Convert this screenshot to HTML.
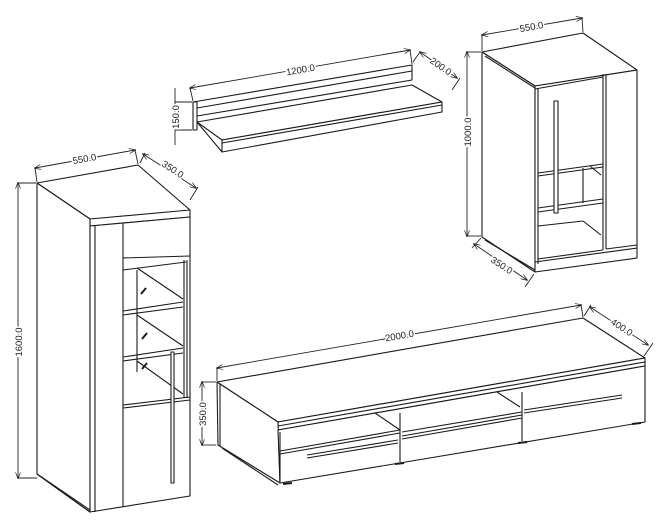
<!DOCTYPE html>
<html><head><meta charset="utf-8"><style>
html,body{margin:0;padding:0;background:#fff;}
svg{display:block}
text{font-family:"Liberation Sans",sans-serif;font-size:9.5px;fill:#222}
</style></head><body>
<svg width="663" height="527" viewBox="0 0 663 527" xmlns="http://www.w3.org/2000/svg">
<defs><marker id="a" markerWidth="8" markerHeight="6" refX="7" refY="3" orient="auto-start-reverse"><path d="M0,0 L8,3 L0,6" fill="none" stroke="#222" stroke-width="0.8"/></marker></defs>
<g fill="none" stroke="#1a1a1a" stroke-width="1.1" stroke-linejoin="round">
<!-- Tall cabinet -->
<polygon points="37,183 138,165 190,210 90,219" fill="#fff"/>
<polyline points="90,219 90,226 190,217 190,210"/>
<polygon points="37,183 90,219 90,512 37,474" fill="#fff"/>
<polygon points="90,226 190,217 190,496 90,512" fill="#fff"/>
<line x1="95" y1="226" x2="95" y2="512"/>
<line x1="123" y1="223" x2="123" y2="507"/>
<line x1="123" y1="258" x2="190" y2="256"/>
<line x1="123" y1="270" x2="186" y2="262"/>
<line x1="137" y1="270" x2="137" y2="372"/>
<line x1="137" y1="268" x2="183" y2="299"/>
<line x1="123" y1="311" x2="183" y2="302"/>
<line x1="123" y1="315" x2="183" y2="307"/>
<line x1="137" y1="315" x2="183" y2="346"/>
<line x1="123" y1="357" x2="183" y2="348"/>
<line x1="123" y1="361" x2="183" y2="353"/>
<line x1="137" y1="361" x2="183" y2="394"/>
<line x1="184" y1="260" x2="184" y2="398"/>
<line x1="187" y1="260" x2="187" y2="398"/>
<line x1="123" y1="405" x2="190" y2="397"/>
<line x1="123" y1="408" x2="190" y2="400"/>
<rect x="171" y="352" width="3" height="131" fill="#fff"/>
<line x1="37" y1="474" x2="90" y2="512"/><line x1="40" y1="476" x2="90" y2="510"/>
<g stroke-width="2"><line x1="141" y1="294" x2="146" y2="288"/><line x1="142" y1="339" x2="147" y2="333"/><line x1="142" y1="369" x2="147" y2="363"/>
<line x1="565" y1="188" x2="570" y2="183"/><line x1="565" y1="237" x2="570" y2="232"/></g>
<!-- Shelf -->
<polygon points="193,102 412,65 412,80 197,116" fill="#fff"/>
<line x1="197" y1="108" x2="412" y2="71"/>
<polygon points="193,102 197,102 197,130 193,130" fill="#fff"/>
<polygon points="197,122 412,85 442,102 222,140" fill="#fff"/>
<polygon points="222,140 442,102 442,112 222,152" fill="#fff"/>
<line x1="222" y1="143" x2="442" y2="105"/>
<line x1="197" y1="122" x2="222" y2="152"/>
<!-- Right cabinet -->
<polygon points="482,52 583,33 637,70 535,86" fill="#fff"/>
<polygon points="482,52 535,86 535,272 482,237" fill="#fff"/>
<line x1="485" y1="56" x2="535" y2="88"/><line x1="485" y1="240" x2="535" y2="270"/>
<polygon points="535,86 637,70 637,258 535,272" fill="#fff"/>
<line x1="535" y1="89" x2="603" y2="77"/>
<line x1="538" y1="89" x2="538" y2="264"/>
<line x1="603" y1="74" x2="603" y2="250"/><line x1="606" y1="74" x2="606" y2="249"/>
<line x1="538" y1="173" x2="603" y2="164"/>
<line x1="538" y1="176" x2="603" y2="167"/>
<line x1="583" y1="168" x2="583" y2="203"/>
<line x1="590" y1="166" x2="601" y2="175"/>
<line x1="538" y1="208" x2="603" y2="199"/><line x1="538" y1="212" x2="603" y2="203"/>
<line x1="583" y1="221" x2="601" y2="235"/>
<line x1="538" y1="226" x2="583" y2="221"/>
<line x1="538" y1="259" x2="603" y2="250"/><line x1="606" y1="249" x2="637" y2="245"/>
<line x1="535" y1="262" x2="637" y2="248"/>
<rect x="554" y="101" width="4" height="112" fill="#fff"/>
<!-- TV stand -->
<polygon points="217,382 583,318 645,358 278,422" fill="#fff"/>
<polygon points="278,422 645,358 645,366 278,430" fill="#fff"/>
<line x1="278" y1="426" x2="645" y2="362"/>
<polygon points="217,382 278,422 280,483 218,445" fill="#fff"/>
<line x1="220" y1="384" x2="220" y2="446"/><line x1="222" y1="448" x2="278" y2="485"/>
<polygon points="278,430 645,366 645,422 280,483" fill="#fff"/>
<line x1="280" y1="432" x2="280" y2="483"/>
<line x1="280" y1="451" x2="400" y2="430"/>
<line x1="280" y1="454" x2="400" y2="433"/>
<line x1="400" y1="413" x2="400" y2="462"/>
<line x1="522" y1="392" x2="522" y2="441"/>
<line x1="375" y1="413" x2="400" y2="430"/>
<line x1="497" y1="392" x2="520" y2="407"/>
<line x1="402" y1="432" x2="522" y2="412"/><line x1="402" y1="436" x2="522" y2="415"/><line x1="402" y1="439" x2="522" y2="418"/>
<line x1="524" y1="410" x2="622" y2="395"/>
<line x1="524" y1="413" x2="622" y2="398"/>
<line x1="307" y1="455" x2="398" y2="440"/><line x1="307" y1="458" x2="398" y2="443"/>
<g stroke-width="2"><line x1="283" y1="484" x2="292" y2="483"/><line x1="395" y1="464" x2="404" y2="463"/><line x1="518" y1="443" x2="527" y2="442"/><line x1="632" y1="424" x2="641" y2="423"/></g>
</g>
<!-- Dimensions -->
<g stroke="#222" stroke-width="0.9" fill="none">
<line x1="18" y1="183" x2="18" y2="478" marker-start="url(#a)" marker-end="url(#a)"/>
<line x1="18" y1="183" x2="36" y2="183"/><line x1="18" y1="478" x2="37" y2="478"/>
<line x1="35" y1="168" x2="135" y2="150" marker-start="url(#a)" marker-end="url(#a)"/>
<line x1="35" y1="168" x2="37" y2="182"/><line x1="135" y1="150" x2="138" y2="164"/>
<line x1="143" y1="154" x2="196" y2="188" marker-start="url(#a)" marker-end="url(#a)"/>
<line x1="140" y1="163" x2="145" y2="153"/><line x1="190" y1="200" x2="198" y2="187"/>
<line x1="190" y1="88" x2="410" y2="50" marker-start="url(#a)" marker-end="url(#a)"/>
<line x1="190" y1="88" x2="193" y2="101"/><line x1="410" y1="50" x2="412" y2="64"/>
<line x1="420" y1="52" x2="457" y2="78" marker-start="url(#a)" marker-end="url(#a)"/>
<line x1="413" y1="62" x2="420" y2="52"/><line x1="452" y1="90" x2="460" y2="78"/>
<line x1="175" y1="88" x2="175" y2="145"/>
<line x1="175" y1="102" x2="192" y2="102"/><line x1="175" y1="130" x2="192" y2="130"/>
<line x1="482" y1="35" x2="582" y2="18" marker-start="url(#a)" marker-end="url(#a)"/>
<line x1="482" y1="35" x2="482" y2="51"/><line x1="582" y1="18" x2="583" y2="32"/>
<line x1="467" y1="52" x2="467" y2="236" marker-start="url(#a)" marker-end="url(#a)"/>
<line x1="467" y1="52" x2="481" y2="52"/><line x1="467" y1="236" x2="481" y2="236"/>
<line x1="474" y1="244" x2="527" y2="280" marker-start="url(#a)" marker-end="url(#a)"/>
<line x1="472" y1="248" x2="481" y2="238"/><line x1="525" y1="287" x2="534" y2="274"/>
<line x1="217" y1="368" x2="581" y2="305" marker-start="url(#a)" marker-end="url(#a)"/>
<line x1="217" y1="368" x2="217" y2="381"/><line x1="581" y1="305" x2="583" y2="317"/>
<line x1="590" y1="307" x2="648" y2="345" marker-start="url(#a)" marker-end="url(#a)"/>
<line x1="584" y1="316" x2="591" y2="305"/><line x1="644" y1="356" x2="653" y2="343"/>
<line x1="202" y1="382" x2="202" y2="445" marker-start="url(#a)" marker-end="url(#a)"/>
<line x1="202" y1="382" x2="216" y2="382"/><line x1="202" y1="445" x2="216" y2="445"/>
</g>
<g style="paint-order:stroke;stroke:#fff;stroke-width:3">
<text transform="translate(22,342) rotate(-90)" text-anchor="middle">1600.0</text>
<text transform="translate(85,162) rotate(-10)" text-anchor="middle">550.0</text>
<text transform="translate(171,172) rotate(33)" text-anchor="middle">350.0</text>
<text transform="translate(301,73) rotate(-10)" text-anchor="middle">1200.0</text>
<text transform="translate(439,69) rotate(35)" text-anchor="middle">200.0</text>
<text transform="translate(179,117) rotate(-90)" text-anchor="middle">150.0</text>
<text transform="translate(532,30) rotate(-10)" text-anchor="middle">550.0</text>
<text transform="translate(471,132) rotate(-90)" text-anchor="middle">1000.0</text>
<text transform="translate(500,268) rotate(33)" text-anchor="middle">350.0</text>
<text transform="translate(400,339) rotate(-10)" text-anchor="middle">2000.0</text>
<text transform="translate(620,330) rotate(33)" text-anchor="middle">400.0</text>
<text transform="translate(206,414) rotate(-90)" text-anchor="middle">350.0</text>
</g>
</svg>
</body></html>
